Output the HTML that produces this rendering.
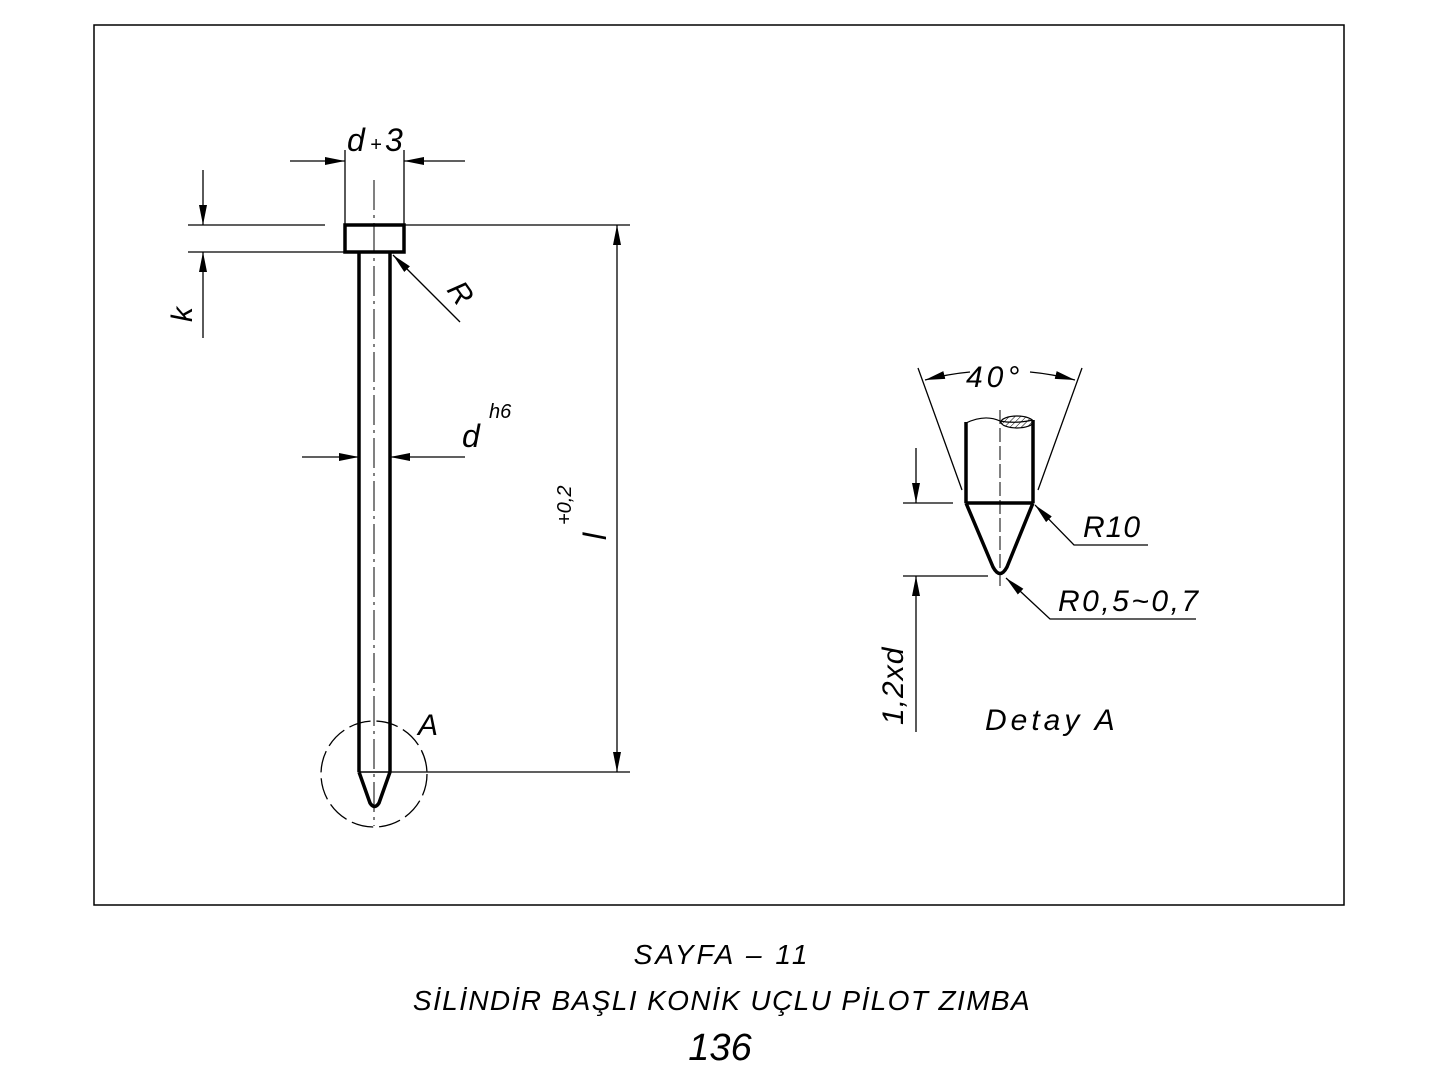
<!DOCTYPE html>
<html><head><meta charset="utf-8"><style>
html,body{margin:0;padding:0;background:#fff}
svg{display:block}
text{font-family:"Liberation Sans",sans-serif;font-style:italic;fill:#000}
</style></head><body>
<svg width="1440" height="1080" viewBox="0 0 1440 1080" xmlns="http://www.w3.org/2000/svg">
<defs>
<marker id="ar" viewBox="0 0 20 8" refX="20" refY="4" markerWidth="20" markerHeight="8" markerUnits="userSpaceOnUse" orient="auto"><path d="M0,0 L20,4 L0,8 Z" fill="#000"/></marker>
<pattern id="hat" width="4" height="4" patternUnits="userSpaceOnUse" patternTransform="rotate(45)"><line x1="0" y1="0" x2="0" y2="4" stroke="#000" stroke-width="1"/></pattern>
</defs>
<rect x="94" y="25" width="1250" height="880" fill="none" stroke="#000" stroke-width="1.5"/>

<g stroke="#000" fill="none">
<line x1="374" y1="180" x2="374" y2="826" stroke-width="1" stroke-dasharray="30,5,3,5"/>
<rect x="345" y="225" width="59" height="27" stroke-width="3.5"/>
<line x1="359" y1="252" x2="359" y2="772" stroke-width="3.5"/>
<line x1="390" y1="252" x2="390" y2="772" stroke-width="3.5"/>
<line x1="359" y1="772" x2="390" y2="772" stroke-width="1.5"/>
<path d="M359,772 L370,803 Q374.5,810 379,803 L390,772" stroke-width="3.5" stroke-linejoin="round"/>
<circle cx="374" cy="774" r="53" stroke-width="1.3" stroke-dasharray="22,6"/>

<line x1="345" y1="150" x2="345" y2="225" stroke-width="1.3"/>
<line x1="404" y1="150" x2="404" y2="225" stroke-width="1.3"/>
<line x1="290" y1="161" x2="345" y2="161" stroke-width="1.3" marker-end="url(#ar)"/>
<line x1="465" y1="161" x2="404" y2="161" stroke-width="1.3" marker-end="url(#ar)"/>
<line x1="188" y1="225" x2="325" y2="225" stroke-width="1.3"/>
<line x1="404" y1="225" x2="630" y2="225" stroke-width="1.3"/>
<line x1="188" y1="252" x2="345" y2="252" stroke-width="1.3"/>
<line x1="203" y1="170" x2="203" y2="225" stroke-width="1.3" marker-end="url(#ar)"/>
<line x1="203" y1="338" x2="203" y2="252" stroke-width="1.3" marker-end="url(#ar)"/>
<line x1="460" y1="322" x2="393" y2="255" stroke-width="1.3" marker-end="url(#ar)"/>
<line x1="302" y1="457" x2="359" y2="457" stroke-width="1.3" marker-end="url(#ar)"/>
<line x1="465" y1="457" x2="390" y2="457" stroke-width="1.3" marker-end="url(#ar)"/>
<line x1="390" y1="772" x2="630" y2="772" stroke-width="1.3"/>
<line x1="617" y1="500" x2="617" y2="225" stroke-width="1.3" marker-end="url(#ar)"/>
<line x1="617" y1="500" x2="617" y2="772" stroke-width="1.3" marker-end="url(#ar)"/>

<line x1="1000" y1="410" x2="1000" y2="590" stroke-width="1" stroke-dasharray="14,4"/>
<path d="M966,423 Q985,414 1000,421 Q1015,424 1033,420" stroke-width="1.2"/>
<ellipse cx="1017" cy="422" rx="16" ry="6" stroke-width="1.2" fill="url(#hat)"/>
<line x1="966" y1="422" x2="966" y2="503" stroke-width="3.5"/>
<line x1="1033" y1="420" x2="1033" y2="503" stroke-width="3.5"/>
<line x1="966" y1="503" x2="1033" y2="503" stroke-width="3.5"/>
<path d="M966,503 L993,567 Q1000,580 1007,567 L1033,503" stroke-width="3.5" stroke-linejoin="round"/>
<line x1="918" y1="368" x2="962" y2="490" stroke-width="1.3"/>
<line x1="1082" y1="368" x2="1038" y2="490" stroke-width="1.3"/>
<path d="M970,372 Q948,374 925,380" stroke-width="1.3" marker-end="url(#ar)"/>
<path d="M1030,372 Q1052,374 1075,380" stroke-width="1.3" marker-end="url(#ar)"/>
<line x1="903" y1="503" x2="953" y2="503" stroke-width="1.3"/>
<line x1="903" y1="576" x2="988" y2="576" stroke-width="1.3"/>
<line x1="916" y1="448" x2="916" y2="503" stroke-width="1.3" marker-end="url(#ar)"/>
<line x1="916" y1="732" x2="916" y2="576" stroke-width="1.3" marker-end="url(#ar)"/>
<polyline points="1148,545 1074,545 1035,505" stroke-width="1.3" marker-end="url(#ar)"/>
<polyline points="1196,619 1050,619 1006,578" stroke-width="1.3" marker-end="url(#ar)"/>
</g>

<text x="347" y="151" font-size="32">d</text>
<text x="370" y="151" font-size="20">+</text>
<text x="385" y="151" font-size="32">3</text>
<text transform="translate(192,322) rotate(-90)" font-size="30">k</text>
<text transform="translate(446,290) rotate(55)" font-size="30">R</text>
<text x="462" y="447" font-size="32">d</text>
<text x="489" y="418" font-size="20">h6</text>
<text transform="translate(606,540) rotate(-90)" font-size="32">l</text>
<text transform="translate(571,525) rotate(-90)" font-size="20">+0,2</text>
<text x="418" y="735" font-size="30">A</text>

<text x="966" y="387" font-size="30" letter-spacing="4">40°</text>
<text x="1083" y="537" font-size="30" letter-spacing="1">R10</text>
<text x="1058" y="611" font-size="30" letter-spacing="2.5">R0,5~0,7</text>
<text transform="translate(903,725) rotate(-90)" font-size="30" letter-spacing="1">1,2xd</text>
<text x="985" y="730" font-size="30" letter-spacing="4">Detay A</text>

<text x="722" y="964" font-size="28" text-anchor="middle" letter-spacing="3">SAYFA – 11</text>
<text x="722" y="1010" font-size="28" text-anchor="middle" letter-spacing="1.4">SİLİNDİR BAŞLI KONİK UÇLU PİLOT ZIMBA</text>
<text x="720" y="1060" font-size="38" text-anchor="middle">136</text>
</svg>
</body></html>
